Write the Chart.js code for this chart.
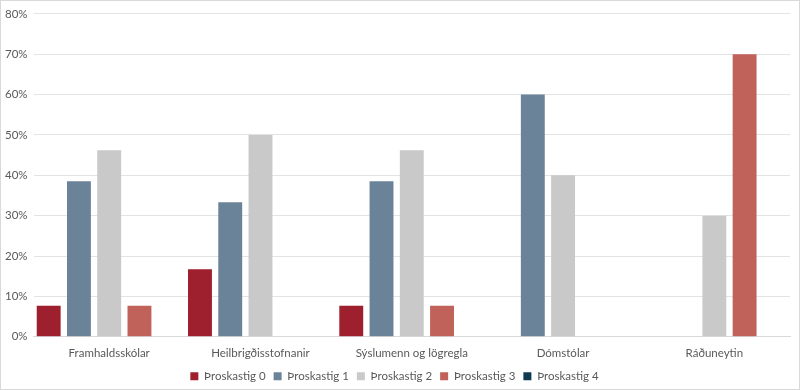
<!DOCTYPE html>
<html>
<head>
<meta charset="utf-8">
<script src="https://cdn.jsdelivr.net/npm/chart.js@4"></script>
<style>
    html, body { margin: 0; padding: 0; background: #fff; }
    #wrap { position: relative; width: 798px; height: 388px; border: 1px solid #d9d9d9; }
</style>
</head>
<body>
<div id="wrap"><canvas id="chart"></canvas></div>
<script>
const categories = ['Framhaldsskólar', 'Heilbrigðisstofnanir', 'Sýslumenn og lögregla', 'Dómstólar', 'Ráðuneytin']

const stig0 = [7.7, 16.7, 7.7, 0, 0]
const stig1 = [38.5, 33.3, 38.5, 60, 0]
const stig2 = [46.2, 50, 46.2, 40, 30]
const stig3 = [7.7, 0, 7.7, 0, 70]
const stig4 = [0, 0, 0, 0, 0]

const seriesNames = ['Þroskastig 0', 'Þroskastig 1', 'Þroskastig 2', 'Þroskastig 3', 'Þroskastig 4']
const colors = ['#9e1f2e', '#6b8399', '#c9c9c9', '#c0615a', '#0e3a52']

const values = [stig0, stig1, stig2, stig3, stig4]

Chart.defaults.font.family = 'Lato, Open Sans, sans-serif'
Chart.defaults.font.size = 11.5
Chart.defaults.color = '#595959'

const canvas = document.getElementById('chart')

const chart = new Chart(canvas, {
    type: 'bar',
    data: {
        labels: categories,
        datasets: values.map((v, i) => ({
            label: seriesNames[i],
            data: v,
            backgroundColor: colors[i],
            categoryPercentage: 1.0,
            barPercentage: 0.79
        }))
    },
    options: {
        responsive: true,
        maintainAspectRatio: false,
        animation: false,
        layout: {
            padding: { left: -2, right: 9, top: -6, bottom: -3 }
        },
        plugins: {
            legend: {
                position: 'bottom',
                labels: {
                    boxWidth: 8,
                    boxHeight: 8,
                    padding: 8
                }
            },
            tooltip: { enabled: false }
        },
        scales: {
            x: {
                grid: { display: false },
                border: { color: '#d9d9d9' },
                ticks: { padding: 2 }
            },
            y: {
                min: 0,
                max: 80,
                ticks: {
                    stepSize: 10,
                    callback: v => v + '%',
                    padding: 6
                },
                grid: { color: '#e3e3e3', drawTicks: false },
                border: { display: false }
            }
        }
    }
})
</script>
</body>
</html>
